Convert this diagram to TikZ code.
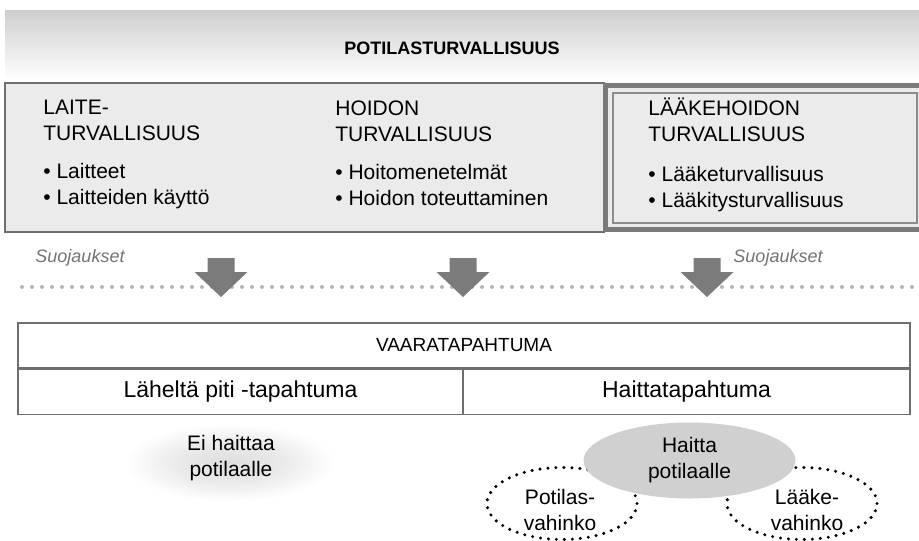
\documentclass[tikz,border=0pt]{standalone}
\usepackage{fontspec}
\setmainfont{Liberation Sans}
\usepackage{tikz}
\usetikzlibrary{positioning,shapes.geometric}

\definecolor{boxgray}{HTML}{EBEBEB}
\definecolor{framegray}{HTML}{6F6F6F}
\definecolor{bandgray}{HTML}{7A7A7A}
\definecolor{arrowgray}{HTML}{7B7B7C}
\definecolor{dotgray}{HTML}{B4B4B4}
\definecolor{haittagray}{HTML}{D0D0D0}
\pgfdeclareradialshading{eishade}{\pgfpoint{0bp}{0bp}}{color(0bp)=(black!13); color(13bp)=(black!8); color(25bp)=(white); color(50bp)=(white)}

\begin{document}
\begin{tikzpicture}[x=0.5pt,y=-0.5pt,
  txt/.style={font=\fontsize{10.5}{13}\selectfont,inner sep=0pt,align=left},
  guard/.style={font=\itshape\fontsize{9}{11}\selectfont,text=black!55,inner sep=0pt},
  cell/.style={draw=framegray,line width=0.75pt,inner sep=0pt,minimum height=22.5pt,font=\fontsize{11.5}{14}\selectfont},
  dotring/.style={ellipse,draw=black,line width=1.7pt,line cap=round,dash pattern=on 0pt off 4pt,minimum width=75pt,minimum height=36pt,inner sep=0pt},
  blob/.style={ellipse,minimum width=105pt,minimum height=39pt,inner sep=0pt,align=center,font=\fontsize{10.5}{13}\selectfont}]
\useasboundingbox (0,0) rectangle (919,540);

% potilasturvallisuus
\shade[top color=black!19,bottom color=white] (5,11) rectangle (919,80);
\node[font=\bfseries\fontsize{9}{11}\selectfont] (potila) at (452,48.5) {POTILASTURVALLISUUS};

\draw[framegray,line width=0.75pt,fill=boxgray] (5,83) rectangle (604,232);
\draw[bandgray,line width=2.5pt,fill=boxgray] (605.5,85.5) rectangle (922,229.5);
\draw[framegray!80,line width=0.75pt] (613,93) rectangle (917,223);

\node[txt,anchor=north west] (laite) at (43,100) {LAITE-\\TURVALLISUUS\\[6pt]\textbullet\ Laitteet\\\textbullet\ Laitteiden käyttö};
\node[txt,anchor=north west] (hoito) at (335,100) {HOIDON\\TURVALLISUUS\\[6pt]\textbullet\ Hoitomenetelmät\\\textbullet\ Hoidon toteuttaminen};
\node[txt,anchor=north west] (laake) at (648,98) {LÄÄKEHOIDON\\TURVALLISUUS\\[7pt]\textbullet\ Lääketurvallisuus\\\textbullet\ Lääkitysturvallisuus};

% suojaukset
\node[guard] (suojaL) at (80,258) {Suojaukset};
\node[guard] (suojaR) at (778,258) {Suojaukset};
\coordinate (dotL) at (22,287);
\coordinate (dotR) at (919,287);
\draw[dotgray,line width=2pt,line cap=round,dash pattern=on 0pt off 5pt] (dotL) -- (dotR);
\foreach \ax in {221,463,707}
  \fill[arrowgray] (\ax-13.5,258) -- (\ax+13.5,258) -- (\ax+13.5,272) -- (\ax+26.5,272)
    -- (\ax,297) -- (\ax-26.5,272) -- (\ax-13.5,272) -- cycle;

% vaaratapahtuma
\node[cell,minimum width=446pt,font=\fontsize{9.5}{11}\selectfont] (vaara) at (464,345.5) {VAARATAPAHTUMA};
\node[cell,minimum width=222.5pt,anchor=north west] (lahelta) at (vaara.south west) {Läheltä piti -tapahtuma};
\node[cell,minimum width=223.5pt,anchor=north east] (haitta) at (vaara.south east) {Haittatapahtuma};

% seuraukset
\node[blob,shading=eishade] (eihaitta) at (230,462.5) {};
\node[txt,align=center] (eitxt) at (231,458.5) {Ei haittaa\\potilaalle};
\node[dotring] (potring) at (562,503.5) {};
\node[dotring] (laakring) at (802,503.5) {};
\node[blob,fill=haittagray,minimum width=106pt,minimum height=38pt] (haittapot) at (689.5,460.5) {Haitta\\potilaalle};
\node[txt,align=center] (potilas) at (560,509.5) {Potilas-\\vahinko};
\node[txt,align=center] (laake2) at (807,509.5) {Lääke-\\vahinko};
\end{tikzpicture}
\end{document}
